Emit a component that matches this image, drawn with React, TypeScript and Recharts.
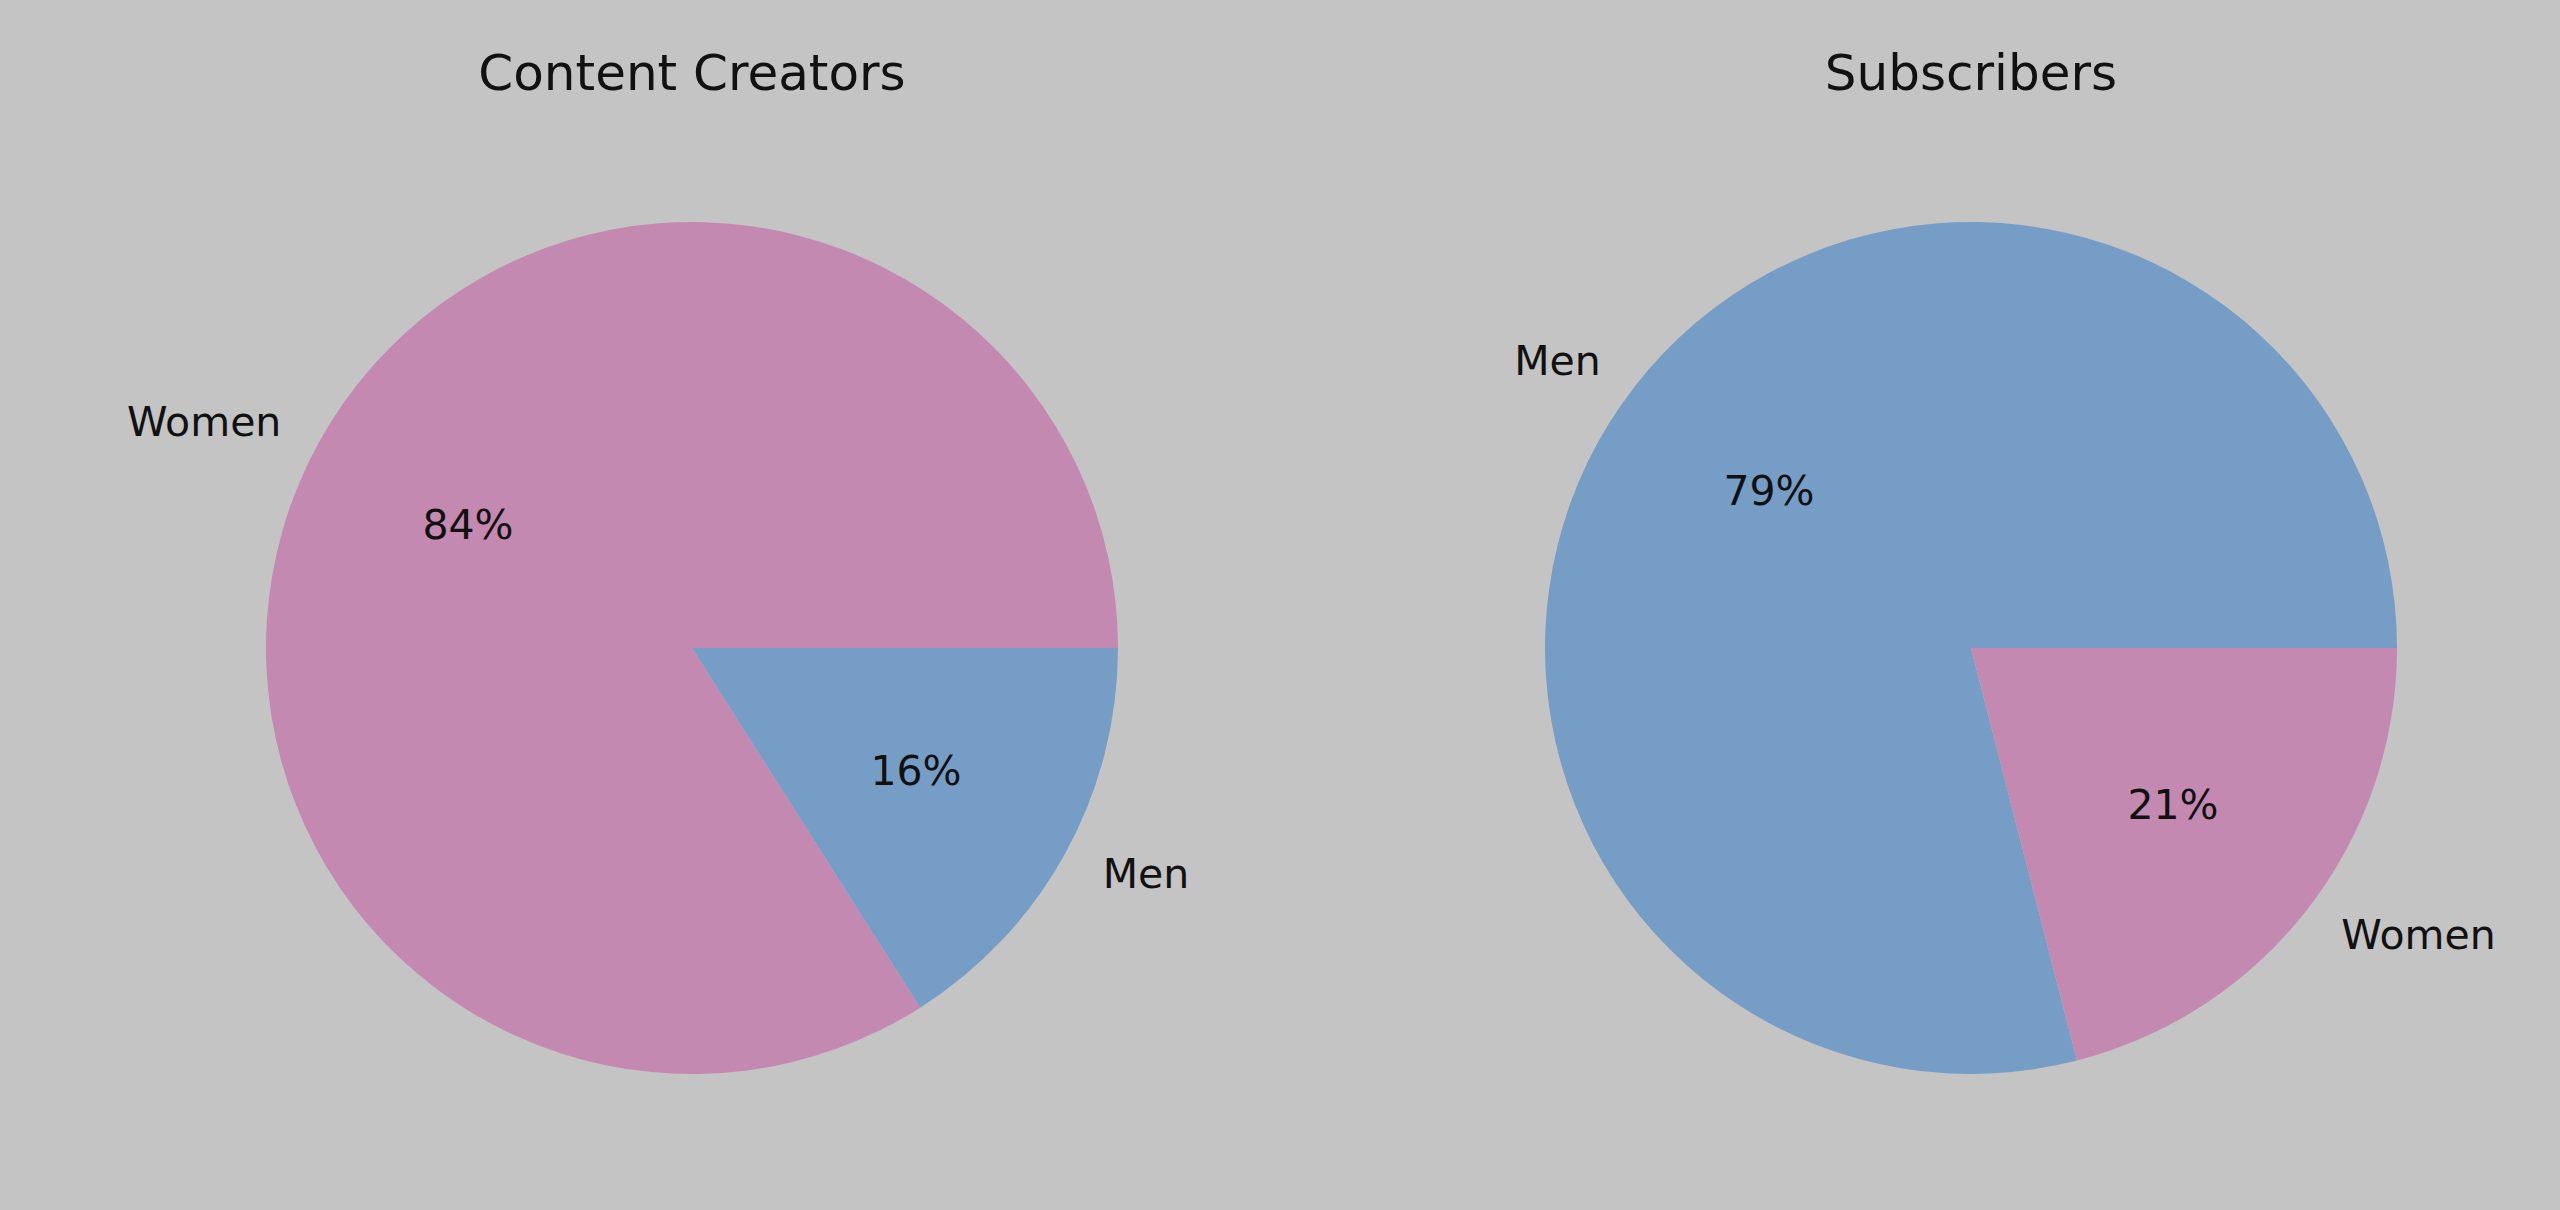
import { Cell, Pie, PieChart } from "recharts"

const creatorNames = ["Women", "Men"]
const creatorValues = [84, 16]
const subscriberNames = ["Men", "Women"]
const subscriberValues = [79, 21]
const titles = ["Content Creators", "Subscribers"]

const sliceColors: Record<string, string> = {
  Women: "#c489b0",
  Men: "#769dc5",
}

const creatorData = creatorNames.map((name, i) => ({ name, value: creatorValues[i] }))
const subscriberData = subscriberNames.map((name, i) => ({ name, value: subscriberValues[i] }))

const RADIAN = Math.PI / 180
const FONT = "'DejaVu Sans', sans-serif"

// matplotlib-style: name at 1.1r, percentage at 0.6r
const renderLabel = (props: any) => {
  const { cx, cy, midAngle, outerRadius, percent, name } = props
  const cos = Math.cos(-midAngle * RADIAN)
  const sin = Math.sin(-midAngle * RADIAN)
  const lx = cx + outerRadius * 1.1 * cos
  const ly = cy + outerRadius * 1.1 * sin
  const px = cx + outerRadius * 0.6 * cos
  const py = cy + outerRadius * 0.6 * sin
  return (
    <g>
      <text
        x={lx}
        y={ly}
        textAnchor={cos > 0 ? "start" : "end"}
        dominantBaseline="central"
        fill="#111"
        fontSize={41}
        fontFamily={FONT}
      >
        {name}
      </text>
      <text
        x={px}
        y={py}
        textAnchor="middle"
        dominantBaseline="central"
        fill="#111"
        fontSize={41}
        fontFamily={FONT}
      >
        {`${Math.round(percent * 100)}%`}
      </text>
    </g>
  )
}

const centers = [692, 1971]

const App = () => {
  return (
    <div style={{ position: "relative", width: 2560, height: 1210, background: "#c4c4c4" }}>
      <style>{`body{margin:0}`}</style>
      {titles.map((t, i) => (
        <div
          key={t}
          style={{
            position: "absolute",
            left: centers[i] - 400,
            width: 800,
            top: 48,
            textAlign: "center",
            fontFamily: FONT,
            fontSize: 50,
            lineHeight: "50px",
            color: "#111",
          }}
        >
          {t}
        </div>
      ))}
      <PieChart width={2560} height={1210} margin={{ top: 0, right: 0, bottom: 0, left: 0 }}>
        <Pie
          data={creatorData}
          dataKey="value"
          nameKey="name"
          cx={centers[0]}
          cy={648}
          outerRadius={426}
          startAngle={0}
          endAngle={360}
          stroke="none"
          labelLine={false}
          label={renderLabel}
          isAnimationActive={false}
        >
          {creatorData.map((d) => (
            <Cell key={d.name} fill={sliceColors[d.name]} />
          ))}
        </Pie>
        <Pie
          data={subscriberData}
          dataKey="value"
          nameKey="name"
          cx={centers[1]}
          cy={648}
          outerRadius={426}
          startAngle={0}
          endAngle={360}
          stroke="none"
          labelLine={false}
          label={renderLabel}
          isAnimationActive={false}
        >
          {subscriberData.map((d) => (
            <Cell key={d.name} fill={sliceColors[d.name]} />
          ))}
        </Pie>
      </PieChart>
    </div>
  )
}

export default App
